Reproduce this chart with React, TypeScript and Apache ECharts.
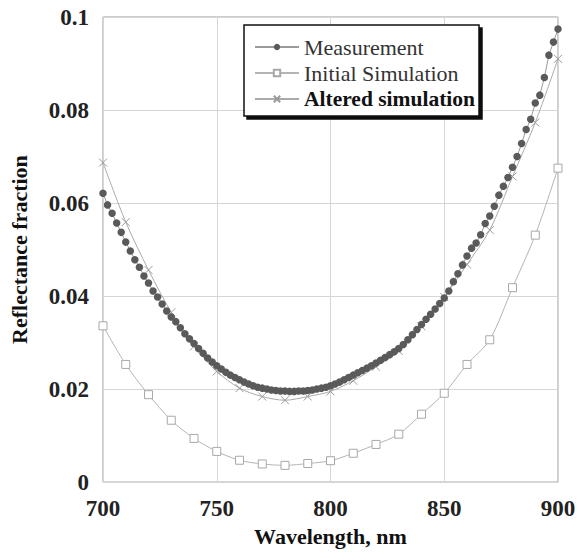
import React, { useEffect, useRef } from "react";
import * as echarts from "echarts";

const measX: number[] = [];
for (let w = 700; w <= 900; w += 2) measX.push(w);
const measY = [
  0.0621, 0.0596, 0.0578, 0.0557, 0.0537, 0.0516, 0.0497, 0.0478, 0.0462, 0.0443,
  0.0428, 0.0411, 0.0398, 0.0383, 0.0368, 0.0355, 0.0345, 0.0332, 0.0319, 0.0308,
  0.0298, 0.0287, 0.0277, 0.0267, 0.0258, 0.0250, 0.0243, 0.0236, 0.0230, 0.0225,
  0.0220, 0.0215, 0.0211, 0.0207, 0.0204, 0.0202, 0.0200, 0.0198, 0.0197, 0.0196,
  0.0196, 0.0195, 0.0195, 0.0196, 0.0196, 0.0197, 0.0198, 0.0200, 0.0202, 0.0204,
  0.0207, 0.0211, 0.0215, 0.0220, 0.0225, 0.0230, 0.0235, 0.0240, 0.0245, 0.0250,
  0.0256, 0.0262, 0.0268, 0.0274, 0.0280, 0.0287, 0.0296, 0.0306, 0.0317, 0.0328,
  0.0339, 0.0350, 0.0361, 0.0372, 0.0384, 0.0396, 0.0411, 0.0431, 0.0448, 0.0467,
  0.0486, 0.0503, 0.0514, 0.0532, 0.0556, 0.0572, 0.0593, 0.0617, 0.0636, 0.0655,
  0.0677, 0.0700, 0.0728, 0.0758, 0.0780, 0.0815, 0.0832, 0.0870, 0.0918, 0.0946,
  0.0974,
];

const simX = [700, 710, 720, 730, 740, 750, 760, 770, 780, 790, 800, 810, 820, 830, 840, 850, 860, 870, 880, 890, 900];
const initialY = [
  0.0336, 0.0253, 0.0188, 0.0133, 0.0094, 0.0066, 0.0047, 0.0039, 0.0036, 0.0040, 0.0046,
  0.0062, 0.0081, 0.0103, 0.0146, 0.0191, 0.0253, 0.0306, 0.0418, 0.0531, 0.0675,
];
const alteredY = [
  0.0687, 0.0559, 0.0456, 0.0365, 0.0292, 0.0238, 0.0202, 0.0184, 0.0176, 0.0184, 0.0195,
  0.0218, 0.0248, 0.0282, 0.0335, 0.0398, 0.0468, 0.0542, 0.0657, 0.0773, 0.0910,
];

const xTicks = { min: 700, max: 900, interval: 50 };
const yTicks = { min: 0, max: 0.1, interval: 0.02 };

const FONT = "'Liberation Serif', 'DejaVu Serif', serif";

export default function App() {
  const ref = useRef<HTMLDivElement>(null);
  useEffect(() => {
    document.body.style.margin = "0";
    const chart = echarts.init(ref.current!, null, { renderer: "svg" });
    const zip = (xs: number[], ys: number[]) => xs.map((x, i) => [x, ys[i]]);
    chart.setOption({
      animation: false,
      backgroundColor: "#fff",
      grid: {
        left: 97,
        right: 23,
        top: 17,
        bottom: 68,
        show: true,
        borderColor: "#9a9a9a",
        borderWidth: 1,
      },
      legend: {
        orient: "vertical",
        left: 244,
        top: 25,
        padding: [11, 4, 6, 10],
        itemGap: 4,
        itemWidth: 44,
        itemHeight: 8,
        backgroundColor: "#fff",
        borderColor: "#111",
        borderWidth: 1.5,
        shadowColor: "#111",
        shadowOffsetX: 3,
        shadowOffsetY: 3,
        shadowBlur: 0,
        textStyle: { fontFamily: FONT, fontSize: 22, color: "#333" },
        data: [
          { name: "Measurement" },
          { name: "Initial Simulation" },
          { name: "Altered simulation", textStyle: { fontWeight: "bold", color: "#111", fontSize: 21.5 } },
        ],
      },
      xAxis: {
        type: "value",
        ...xTicks,
        name: "Wavelength, nm",
        nameLocation: "middle",
        nameGap: 37,
        nameTextStyle: { fontFamily: FONT, fontSize: 22, fontWeight: "bold", color: "#111" },
        axisLine: { show: false },
        axisTick: { show: false },
        axisLabel: { fontFamily: FONT, fontSize: 23, fontWeight: "bold", color: "#222", margin: 15 },
        splitLine: { show: true, lineStyle: { color: "#d6d6d6", width: 1 } },
      },
      yAxis: {
        type: "value",
        ...yTicks,
        name: "Reflectance fraction",
        nameLocation: "middle",
        nameGap: 73,
        nameTextStyle: { fontFamily: FONT, fontSize: 22, fontWeight: "bold", color: "#111" },
        axisLine: { show: false },
        axisTick: { show: false },
        axisLabel: { fontFamily: FONT, fontSize: 23, fontWeight: "bold", color: "#222", margin: 14 },
        splitLine: { show: true, lineStyle: { color: "#d6d6d6", width: 1 } },
      },
      series: [
        {
          name: "Measurement",
          type: "line",
          data: zip(measX, measY),
          symbol: "circle",
          symbolSize: 7.5,
          showAllSymbol: true,
          itemStyle: { color: "#5a5a5a" },
          lineStyle: { color: "#9a9a9a", width: 1 },
          z: 4,
        },
        {
          name: "Initial Simulation",
          type: "line",
          data: zip(simX, initialY),
          smooth: 0.3,
          symbol: "rect",
          symbolSize: 8,
          showAllSymbol: true,
          itemStyle: { color: "#fff", borderColor: "#a8a8a8", borderWidth: 1 },
          lineStyle: { color: "#b4b4b4", width: 1 },
          z: 2,
        },
        {
          name: "Altered simulation",
          type: "line",
          data: zip(simX, alteredY),
          smooth: 0.3,
          symbol: "path://M0,0L10,10M10,0L0,10",
          symbolSize: 8,
          showAllSymbol: true,
          itemStyle: { color: "none", borderColor: "#9a9a9a", borderWidth: 1 },
          lineStyle: { color: "#aaaaaa", width: 1 },
          z: 3,
        },
      ],
    });
    return () => chart.dispose();
  }, []);
  return <div ref={ref} style={{ width: 581, height: 552 }} />;
}
